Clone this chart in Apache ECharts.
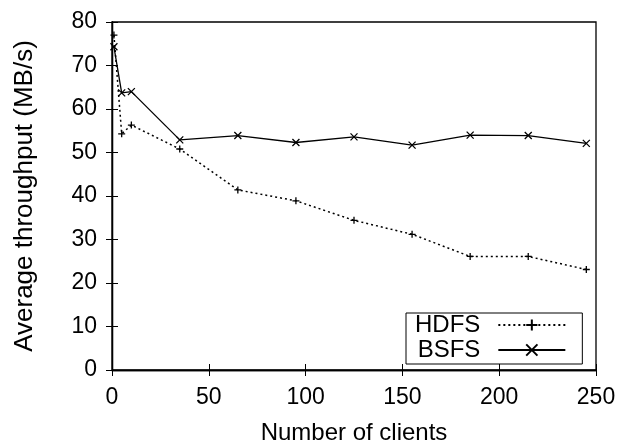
<!DOCTYPE html>
<html>
<head>
<meta charset="utf-8">
<script src="https://cdn.jsdelivr.net/npm/echarts@6/dist/echarts.min.js"></script>
<style>
html,body{margin:0;padding:0;background:#fff;width:624px;height:444px;overflow:hidden;}
#chart{width:624px;height:444px;overflow:hidden;}
</style>
</head>
<body>
<div id="chart"></div>
<script>
const clients = [1, 5, 10, 35, 65, 95, 125, 155, 185, 215, 245];
const hdfs = [77.0, 54.3, 56.3, 50.8, 41.4, 38.9, 34.4, 31.2, 26.1, 26.1, 23.1];
const bsfs = [74.3, 63.7, 64.0, 52.9, 53.9, 52.3, 53.6, 51.7, 54.0, 53.9, 52.1];
const seriesNames = ['HDFS', 'BSFS'];
const xName = 'Number of clients';
const yName = 'Average throughput (MB/s)';

const FONT = '"Liberation Sans", Arial, Helvetica, sans-serif';
const plusPath = 'path://M0,5L10,5M5,0L5,10';
const crossPath = 'path://M0,0L10,10M0,10L10,0';

function pairs(xs, ys){ return xs.map((x,i)=>[x, ys[i]]); }

const chart = echarts.init(document.getElementById('chart'), null, {renderer:'canvas', width:624, height:444});
const tickCommon = {show:true, inside:true, length:6, lineStyle:{color:'#000', width:1}};
chart.setOption({
  animation:false,
  backgroundColor:'#fff',
  textStyle:{fontFamily:FONT, color:'#000'},
  grid:{left:112, right:28, top:22, bottom:74, show:true, borderColor:'#000', borderWidth:1.3, containLabel:false, outerBoundsMode:'none'},
  legend:{
    orient:'vertical', left:406, top:313,
    align:'right',
    itemWidth:67, itemHeight:14, itemGap:1,
    padding:[0,16,2,9],
    borderColor:'#000', borderWidth:1,
    backgroundColor:'#fff',
    textStyle:{fontFamily:FONT, fontSize:24, lineHeight:24, color:'#000', width:65, padding:[0,13,0,0]},
    data:seriesNames
  },
  xAxis:[{
    type:'value', min:0, max:250, interval:50, position:'bottom',
    name:xName, nameLocation:'middle', nameGap:51,
    nameTextStyle:{fontFamily:FONT, fontSize:24, color:'#000'},
    axisLine:{show:true, lineStyle:{color:'#000', width:1.3}},
    axisTick:tickCommon,
    axisLabel:{fontFamily:FONT, fontSize:23, color:'#000', margin:16},
    splitLine:{show:false}
  },{
    type:'value', min:0, max:250, interval:50, position:'top',
    axisLine:{show:true, lineStyle:{color:'#000', width:1.3}},
    axisTick:tickCommon, axisLabel:{show:false}, splitLine:{show:false}
  }],
  yAxis:[{
    type:'value', min:0, max:80, interval:10, position:'left',
    name:yName, nameLocation:'middle', nameGap:74, nameRotate:90,
    nameTextStyle:{fontFamily:FONT, fontSize:26, color:'#000'},
    axisLine:{show:true, lineStyle:{color:'#000', width:1.3}},
    axisTick:tickCommon,
    axisLabel:{fontFamily:FONT, fontSize:23, color:'#000', margin:15},
    splitLine:{show:false}
  },{
    type:'value', min:0, max:80, interval:10, position:'right',
    axisLine:{show:true, lineStyle:{color:'#000', width:1.3}},
    axisTick:tickCommon, axisLabel:{show:false}, splitLine:{show:false}
  }],
  series:[{
    name:seriesNames[0], type:'line', data:pairs(clients, hdfs),
    symbol:plusPath, symbolSize:7, showSymbol:true,
    lineStyle:{color:'#000', width:1.5, type:[2,3]},
    itemStyle:{color:'#000', borderColor:'#000', borderWidth:1.3}
  },{
    name:seriesNames[1], type:'line', data:pairs(clients, bsfs),
    symbol:crossPath, symbolSize:7, showSymbol:true,
    lineStyle:{color:'#000', width:1.3, type:'solid'},
    itemStyle:{color:'#000', borderColor:'#000', borderWidth:1.3}
  }]
});
</script>
</body>
</html>
